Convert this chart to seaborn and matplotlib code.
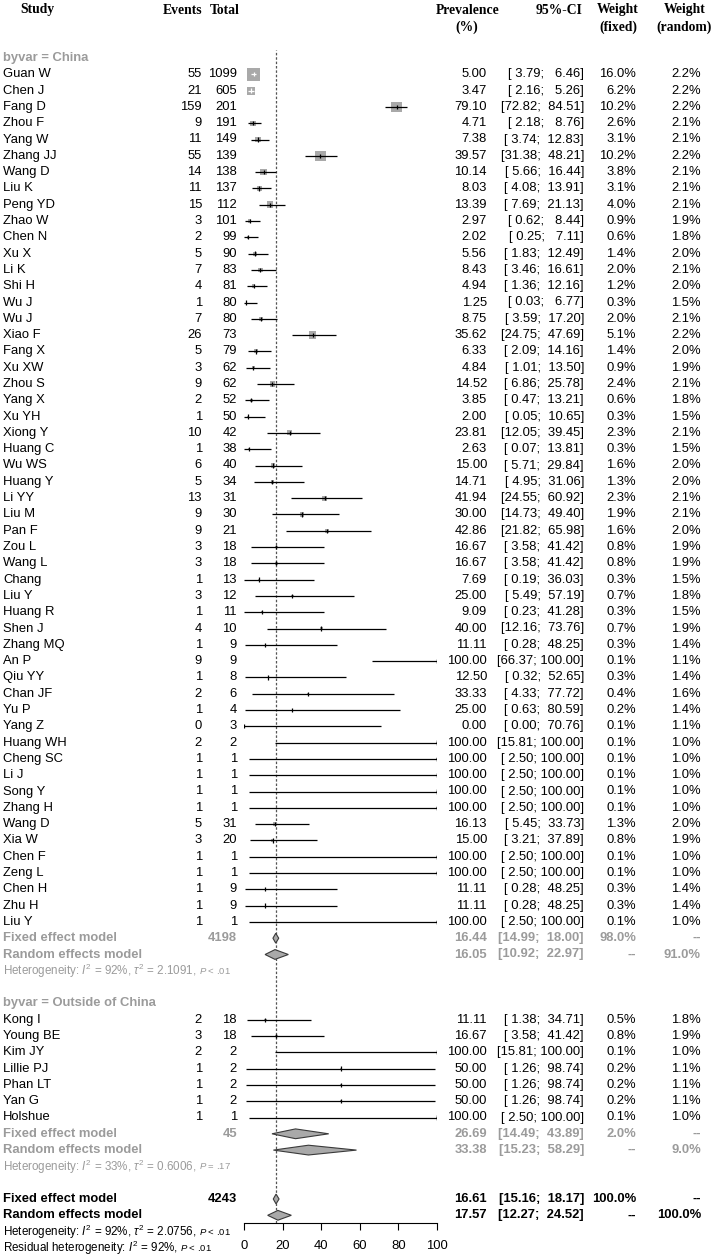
import numpy as np
import pandas as pd
import matplotlib
matplotlib.use("Agg")
import matplotlib.pyplot as plt
import seaborn as sns
from matplotlib.transforms import blended_transform_factory
from matplotlib.patches import Polygon

# ---------------- data ----------------
china_study = ["Guan W", "Chen J", "Fang D", "Zhou F", "Yang W", "Zhang JJ", "Wang D", "Liu K", "Peng YD",
               "Zhao W", "Chen N", "Xu X", "Li K", "Shi H", "Wu J", "Wu J", "Xiao F", "Fang X", "Xu XW",
               "Zhou S", "Yang X", "Xu YH", "Xiong Y", "Huang C", "Wu WS", "Huang Y", "Li YY", "Liu M",
               "Pan F", "Zou L", "Wang L", "Chang", "Liu Y", "Huang R", "Shen J", "Zhang MQ", "An P",
               "Qiu YY", "Chan JF", "Yu P", "Yang Z", "Huang WH", "Cheng SC", "Li J", "Song Y", "Zhang H",
               "Wang D", "Xia W", "Chen F", "Zeng L", "Chen H", "Zhu H", "Liu Y"]
china_events = [55, 21, 159, 9, 11, 55, 14, 11, 15, 3, 2, 5, 7, 4, 1, 7, 26, 5, 3, 9, 2, 1, 10, 1, 6, 5, 13, 9,
                9, 3, 3, 1, 3, 1, 4, 1, 9, 1, 2, 1, 0, 2, 1, 1, 1, 1, 5, 3, 1, 1, 1, 1, 1]
china_total = [1099, 605, 201, 191, 149, 139, 138, 137, 112, 101, 99, 90, 83, 81, 80, 80, 73, 79, 62, 62, 52,
               50, 42, 38, 40, 34, 31, 30, 21, 18, 18, 13, 12, 11, 10, 9, 9, 8, 6, 4, 3, 2, 1, 1, 1, 1, 31, 20,
               1, 1, 9, 9, 1]
china_prev = [5.00, 3.47, 79.10, 4.71, 7.38, 39.57, 10.14, 8.03, 13.39, 2.97, 2.02, 5.56, 8.43, 4.94, 1.25,
              8.75, 35.62, 6.33, 4.84, 14.52, 3.85, 2.00, 23.81, 2.63, 15.00, 14.71, 41.94, 30.00, 42.86,
              16.67, 16.67, 7.69, 25.00, 9.09, 40.00, 11.11, 100.00, 12.50, 33.33, 25.00, 0.00, 100.00,
              100.00, 100.00, 100.00, 100.00, 16.13, 15.00, 100.00, 100.00, 11.11, 11.11, 100.00]
china_lo = [3.79, 2.16, 72.82, 2.18, 3.74, 31.38, 5.66, 4.08, 7.69, 0.62, 0.25, 1.83, 3.46, 1.36, 0.03, 3.59,
            24.75, 2.09, 1.01, 6.86, 0.47, 0.05, 12.05, 0.07, 5.71, 4.95, 24.55, 14.73, 21.82, 3.58, 3.58,
            0.19, 5.49, 0.23, 12.16, 0.28, 66.37, 0.32, 4.33, 0.63, 0.00, 15.81, 2.50, 2.50, 2.50, 2.50, 5.45,
            3.21, 2.50, 2.50, 0.28, 0.28, 2.50]
china_hi = [6.46, 5.26, 84.51, 8.76, 12.83, 48.21, 16.44, 13.91, 21.13, 8.44, 7.11, 12.49, 16.61, 12.16, 6.77,
            17.20, 47.69, 14.16, 13.50, 25.78, 13.21, 10.65, 39.45, 13.81, 29.84, 31.06, 60.92, 49.40, 65.98,
            41.42, 41.42, 36.03, 57.19, 41.28, 73.76, 48.25, 100.00, 52.65, 77.72, 80.59, 70.76, 100.00,
            100.00, 100.00, 100.00, 100.00, 33.73, 37.89, 100.00, 100.00, 48.25, 48.25, 100.00]
china_wf = [16.0, 6.2, 10.2, 2.6, 3.1, 10.2, 3.8, 3.1, 4.0, 0.9, 0.6, 1.4, 2.0, 1.2, 0.3, 2.0, 5.1, 1.4, 0.9,
            2.4, 0.6, 0.3, 2.3, 0.3, 1.6, 1.3, 2.3, 1.9, 1.6, 0.8, 0.8, 0.3, 0.7, 0.3, 0.7, 0.3, 0.1, 0.3, 0.4,
            0.2, 0.1, 0.1, 0.1, 0.1, 0.1, 0.1, 1.3, 0.8, 0.1, 0.1, 0.3, 0.3, 0.1]
china_wr = [2.2, 2.2, 2.2, 2.1, 2.1, 2.2, 2.1, 2.1, 2.1, 1.9, 1.8, 2.0, 2.1, 2.0, 1.5, 2.1, 2.2, 2.0, 1.9, 2.1,
            1.8, 1.5, 2.1, 1.5, 2.0, 2.0, 2.1, 2.1, 2.0, 1.9, 1.9, 1.5, 1.8, 1.5, 1.9, 1.4, 1.1, 1.4, 1.6, 1.4,
            1.1, 1.0, 1.0, 1.0, 1.0, 1.0, 2.0, 1.9, 1.0, 1.0, 1.4, 1.4, 1.0]

out_study = ["Kong I", "Young BE", "Kim JY", "Lillie PJ", "Phan LT", "Yan G", "Holshue"]
out_events = [2, 3, 2, 1, 1, 1, 1]
out_total = [18, 18, 2, 2, 2, 2, 1]
out_prev = [11.11, 16.67, 100.00, 50.00, 50.00, 50.00, 100.00]
out_lo = [1.38, 3.58, 15.81, 1.26, 1.26, 1.26, 2.50]
out_hi = [34.71, 41.42, 100.00, 98.74, 98.74, 98.74, 100.00]
out_wf = [0.5, 0.8, 0.1, 0.2, 0.2, 0.2, 0.1]
out_wr = [1.8, 1.9, 1.0, 1.1, 1.1, 1.1, 1.0]

group_labels = ["byvar = China", "byvar = Outside of China"]
group_n = [4198, 45]
grp_fixed = [16.44, 26.69]
grp_fixed_lo = [14.99, 14.49]
grp_fixed_hi = [18.00, 43.89]
grp_fixed_w = ["98.0%", "2.0%"]
grp_random = [16.05, 33.38]
grp_random_lo = [10.92, 15.23]
grp_random_hi = [22.97, 58.29]
grp_random_w = ["91.0%", "9.0%"]
grp_i2 = ["92%", "33%"]
grp_tau2 = ["2.1091", "0.6006"]
grp_p = ["< .01", "= .17"]

overall_n = 4243
overall_fixed = [16.61, 15.16, 18.17]
overall_random = [17.57, 12.27, 24.52]
overall_het = ["92%", "2.0756", "< .01"]
residual_het = ["92%", "< .01"]

xticks = [0, 20, 40, 60, 80, 100]

# ---------------- style ----------------
sns.set_theme(style="ticks")
plt.rcParams['font.family'] = ['Liberation Sans', 'DejaVu Sans']
plt.rcParams['mathtext.fontset'] = 'custom'
plt.rcParams['mathtext.rm'] = 'Liberation Sans'
plt.rcParams['mathtext.it'] = 'Liberation Sans:italic'
plt.rcParams['mathtext.bf'] = 'Liberation Sans:bold'

FS = 9.4
FS_HET = 8.4
FS_P = 6.8
GREY = '#9b9b9b'
SQ = '#a9a9a9'
HEADF = ['Liberation Serif', 'DejaVu Serif']

W, H = 714, 1256
ROW0, PITCH = 58.0, 16.3
X0, X1 = 244.0, 437.0
PX_PER_UNIT = (X1 - X0) / 100.0

fig = plt.figure(figsize=(W / 100, H / 100), dpi=100)
fig.patch.set_facecolor('white')
top_px = ROW0 - 0.5 * PITCH
bot_px = ROW0 + 71.5 * PITCH
ax = fig.add_axes([X0 / W, 1 - bot_px / H, (X1 - X0) / W, (bot_px - top_px) / H])
ax.set_xlim(0, 100)
ax.set_ylim(71.5, -0.5)
ax.set_facecolor('white')
tr = blended_transform_factory(fig.transFigure, ax.transData)


def put(px, row, s, ha='left', color='black', weight='normal', size=FS, family=None):
    kw = {}
    if family is not None:
        kw['family'] = family
    return ax.text(px / W, row, s, transform=tr, ha=ha, va='center', color=color,
                   fontweight=weight, fontsize=size, clip_on=False, **kw)


def ci_text(row, lo, hi, color='black', weight='normal'):
    put(584, row, f"[{lo:5.2f}; {hi:6.2f}]", 'right', color, weight)


# ---------------- headers ----------------
h1, h2 = (10 - ROW0) / PITCH, (27 - ROW0) / PITCH
hk = dict(weight='bold', size=9.8, family=HEADF)
put(20, h1, "Study", 'left', **hk)
put(202, h1, "Events", 'right', **hk)
put(240, h1, "Total", 'right', **hk)
put(468, h1, "Prevalence", 'center', **hk)
put(467, h2, "(%)", 'center', **hk)
put(582, h1, "95%-CI", 'right', **hk)
put(618, h1, "Weight", 'center', **hk)
put(618, h2, "(fixed)", 'center', **hk)
put(685, h1, "Weight", 'center', **hk)
put(684, h2, "(random)", 'center', **hk)

# ---------------- study rows ----------------
groups = [
    (china_study, china_events, china_total, china_prev, china_lo, china_hi, china_wf, china_wr, 0),
    (out_study, out_events, out_total, out_prev, out_lo, out_hi, out_wf, out_wr, 58),
]

het_items = []
for g, (st, ev, tot, pv, lo, hi, wf, wr, start) in enumerate(groups):
    put(3, start, group_labels[g], 'left', GREY, 'bold')
    rows = np.arange(start + 1, start + 1 + len(st))
    pv_a, lo_a, hi_a, wf_a = map(np.asarray, (pv, lo, hi, wf))
    side_px = 13.0 * np.sqrt(wf_a / 16.0)
    area = (side_px * 0.72) ** 2
    half_units = side_px / 2 / PX_PER_UNIT
    inside = ((pv_a - lo_a) <= half_units) & ((hi_a - pv_a) <= half_units)
    lcol = np.where(inside, 'white', 'black')

    df = pd.DataFrame({'prev': pv_a, 'row': rows})
    sns.scatterplot(data=df, x='prev', y='row', marker='s', s=area, color=SQ,
                    linewidth=0, ax=ax, legend=False, zorder=2)
    ax.hlines(rows, lo_a, hi_a, colors=list(lcol), lw=0.9, zorder=3)
    ax.vlines(pv_a, rows - 0.13, rows + 0.13, colors=list(lcol), lw=0.9, zorder=4)
    capped = hi_a >= 100
    ax.vlines(hi_a[capped], rows[capped] - 0.13, rows[capped] + 0.13, colors='black', lw=0.9, zorder=4)

    for i, r in enumerate(rows):
        put(3, r, st[i])
        put(202, r, str(ev[i]), 'right')
        put(237, r, str(tot[i]), 'right')
        put(487, r, f"{pv[i]:.2f}", 'right')
        ci_text(r, lo[i], hi[i])
        put(636, r, f"{wf[i]:.1f}%", 'right')
        put(701, r, f"{wr[i]:.1f}%", 'right')

    rf = start + 1 + len(st)
    rr = rf + 1
    rh = rf + 2
    # fixed
    put(3, rf, "Fixed effect model", 'left', GREY, 'bold')
    put(237, rf, str(group_n[g]), 'right', GREY, 'bold')
    put(487, rf, f"{grp_fixed[g]:.2f}", 'right', GREY, 'bold')
    ci_text(rf, grp_fixed_lo[g], grp_fixed_hi[g], GREY, 'bold')
    put(636, rf, grp_fixed_w[g], 'right', GREY, 'bold')
    put(701, rf, "--", 'right', GREY, 'bold')
    # random
    put(3, rr, "Random effects model", 'left', GREY, 'bold')
    put(487, rr, f"{grp_random[g]:.2f}", 'right', GREY, 'bold')
    ci_text(rr, grp_random_lo[g], grp_random_hi[g], GREY, 'bold')
    put(636, rr, "--", 'right', GREY, 'bold')
    put(701, rr, grp_random_w[g], 'right', GREY, 'bold')
    # diamonds
    for (e, l, h), r in [((grp_fixed[g], grp_fixed_lo[g], grp_fixed_hi[g]), rf),
                         ((grp_random[g], grp_random_lo[g], grp_random_hi[g]), rr)]:
        ax.add_patch(Polygon([(l, r), (e, r - 0.3), (h, r), (e, r + 0.3)], closed=True,
                             facecolor=SQ, edgecolor='#3a3a3a', lw=0.8, zorder=4))
    t = put(3, rh, f"Heterogeneity: $I^2$ = {grp_i2[g]}, $\\tau^2$ = {grp_tau2[g]}, ",
            'left', GREY, 'normal', FS_HET)
    het_items.append((t, rh, f"$P$ {grp_p[g]}", GREY))

# ---------------- overall ----------------
rf, rr, rh, rres = 70, 71, 72, 73
put(3, rf, "Fixed effect model", 'left', 'black', 'bold')
put(237, rf, str(overall_n), 'right', 'black', 'bold')
put(487, rf, f"{overall_fixed[0]:.2f}", 'right', 'black', 'bold')
ci_text(rf, overall_fixed[1], overall_fixed[2], 'black', 'bold')
put(636, rf, "100.0%", 'right', 'black', 'bold')
put(701, rf, "--", 'right', 'black', 'bold')
put(3, rr, "Random effects model", 'left', 'black', 'bold')
put(487, rr, f"{overall_random[0]:.2f}", 'right', 'black', 'bold')
ci_text(rr, overall_random[1], overall_random[2], 'black', 'bold')
put(636, rr, "--", 'right', 'black', 'bold')
put(701, rr, "100.0%", 'right', 'black', 'bold')
for (e, l, h), r in [(overall_fixed, rf), (overall_random, rr)]:
    ax.add_patch(Polygon([(l, r), (e, r - 0.3), (h, r), (e, r + 0.3)], closed=True,
                         facecolor=SQ, edgecolor='#3a3a3a', lw=0.8, zorder=4))
t = put(3, rh, f"Heterogeneity: $I^2$ = {overall_het[0]}, $\\tau^2$ = {overall_het[1]}, ",
        'left', 'black', 'normal', FS_HET)
het_items.append((t, rh, f"$P$ {overall_het[2]}", 'black'))
t = put(3, rres, f"Residual heterogeneity: $I^2$ = {residual_het[0]}, ", 'left', 'black', 'normal', FS_HET)
het_items.append((t, rres, f"$P$ {residual_het[1]}", 'black'))

# reference line at the overall fixed estimate
ax.axvline(overall_fixed[0], color='#555555', lw=0.9, ls=(0, (2, 1.5)), zorder=1)

# axis styling
for s in ['top', 'right', 'left']:
    ax.spines[s].set_visible(False)
ax.spines['bottom'].set_bounds(0, 100)
ax.spines['bottom'].set_linewidth(0.8)
ax.spines['bottom'].set_color('black')
ax.set_xticks(xticks)
ax.set_xticklabels([str(v) for v in xticks])
ax.set_yticks([])
ax.tick_params(axis='x', direction='out', length=5, width=0.8, pad=7, labelsize=FS,
               colors='black', bottom=True)
ax.set_xlabel("")
ax.set_ylabel("")

# place the small P-value parts right after heterogeneity text
renderer = fig.canvas.get_renderer()
for t, r, ptxt, col in het_items:
    bb = t.get_window_extent(renderer)
    ax.text(bb.x1 / W + 1.0 / W, r, ptxt, transform=tr, ha='left', va='center', color=col,
            fontsize=FS_P, clip_on=False)

fig.savefig("out.png", dpi=100, facecolor='white')
